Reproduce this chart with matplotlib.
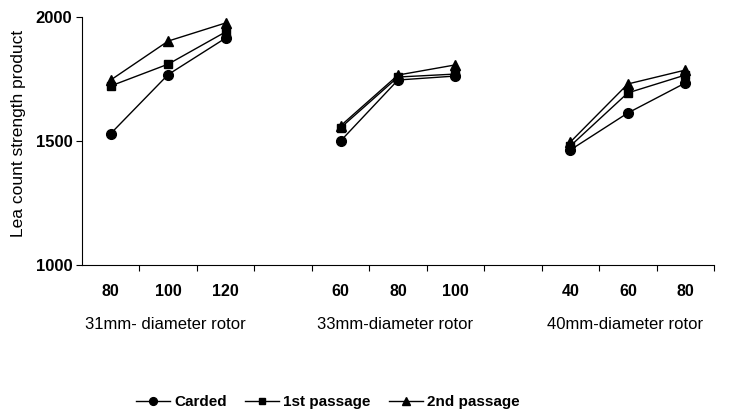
import matplotlib
matplotlib.use("Agg")
import matplotlib.pyplot as plt

plt.rcParams["font.family"] = ["Liberation Sans", "DejaVu Sans"]

rotor_labels = ["31mm- diameter rotor", "33mm-diameter rotor", "40mm-diameter rotor"]
speed_labels = [["80", "100", "120"], ["60", "80", "100"], ["40", "60", "80"]]
carded = [[1530, 1768, 1915], [1500, 1746, 1762], [1464, 1613, 1734]]
first_passage = [[1722, 1810, 1940], [1553, 1758, 1770], [1480, 1694, 1766]]
second_passage = [[1746, 1903, 1976], [1561, 1766, 1807], [1496, 1730, 1786]]
y_ticks = [1000, 1500, 2000]

group_start = [0, 4, 8]   # slot index of first point in each group
n_slots = 11

fig = plt.figure(figsize=(7.53, 4.17), dpi=100)
ax = fig.add_axes([0.1089, 0.3645, 0.8393, 0.5947])

series = [
    ("Carded", carded, "o", 7),
    ("1st passage", first_passage, "s", 6),
    ("2nd passage", second_passage, "^", 7),
]
for name, vals, mk, ms in series:
    for g, start in enumerate(group_start):
        xs = [start + i + 0.5 for i in range(len(vals[g]))]
        ax.plot(xs, vals[g], color="black", lw=1.0, marker=mk, ms=ms,
                label=name if g == 0 else None)

ax.set_xlim(0, n_slots)
ax.set_ylim(1000, 2000)
ax.set_yticks(y_ticks)
ax.set_yticklabels([str(v) for v in y_ticks], fontsize=12, fontweight="bold")
ax.set_ylabel("Lea count strength product", fontsize=12.5)
ax.yaxis.set_label_coords(-0.088, 0.53)

ax.set_xticks(range(1, n_slots + 1))
ax.set_xticklabels([])
centers, labs = [], []
for g, start in enumerate(group_start):
    for i, s in enumerate(speed_labels[g]):
        centers.append(start + i + 0.5)
        labs.append(s)
ax.set_xticks(centers, minor=True)
ax.set_xticklabels(labs, minor=True, fontsize=11.5, fontweight="bold")
ax.tick_params(axis="x", which="minor", length=0, pad=14)
ax.tick_params(axis="x", which="major", length=4, direction="out")
ax.tick_params(axis="y", length=4, direction="out", pad=3)

for sp in ["top", "right"]:
    ax.spines[sp].set_visible(False)

for g, start in enumerate(group_start):
    ax.text(start + 1.5 - 0.05, -0.24, rotor_labels[g], transform=ax.get_xaxis_transform(),
            ha="center", va="center", fontsize=12)

leg = fig.legend(loc="center", bbox_to_anchor=(328 / 753, 0.035), ncol=3, frameon=False,
                 handlelength=2.2, columnspacing=1.2, handletextpad=0.3,
                 prop={"weight": "bold", "size": 11}, markerscale=0.8)

fig.savefig("out.png", dpi=100)
